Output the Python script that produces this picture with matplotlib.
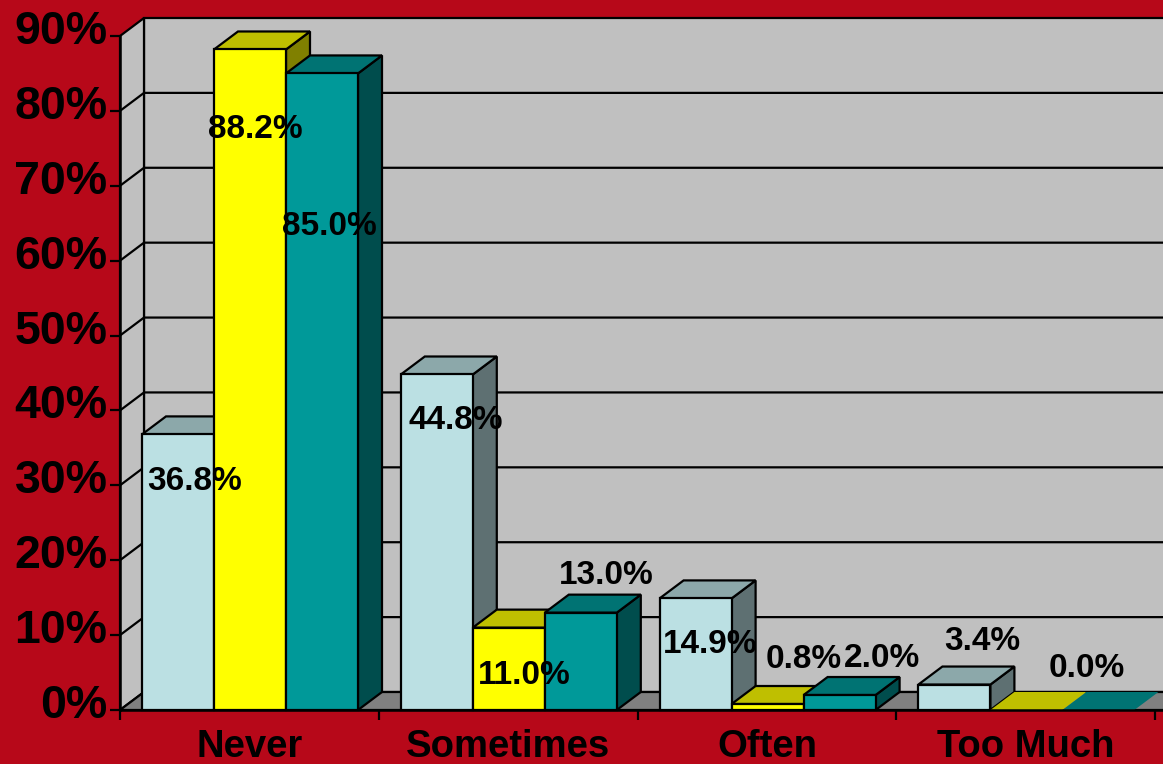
import matplotlib
matplotlib.use('Agg')
import matplotlib.pyplot as plt
from matplotlib.patches import Polygon
from matplotlib.transforms import ScaledTranslation

plt.rcParams['font.family'] = ['Liberation Sans', 'DejaVu Sans']
plt.rcParams['font.weight'] = 'bold'

categories = ['Never', 'Sometimes', 'Often', 'Too Much']
light_values = [36.8, 44.8, 14.9, 3.4]
yellow_values = [88.2, 11.0, 0.8, 0.0]
teal_values = [85.0, 13.0, 2.0, 0.0]
y_ticks = [0, 10, 20, 30, 40, 50, 60, 70, 80, 90]

# label offsets from each bar's top left corner, in pixels (None = not shown)
light_offsets = [(53, -44), (55, -43), (51, -43), (64, 47)]
yellow_offsets = [(41, -77), (51, -44), (72, 48), None]
teal_offsets = [(43, -150), (61, 41), (78, 40), (24, 45)]

RED = '#B70819'
WALL = '#C0C0C0'
FLOOR = '#808080'
# front, top, side
LIGHT = ('#BBE0E3', '#8CA8AA', '#5E7072')
YELLOW = ('#FFFF00', '#BFBF00', '#808000')
TEAL = ('#009999', '#007373', '#004D4D')

W, H = 1163, 764
CAT_PX = 258.8
PCT_PX = 674 / 90
DX = 24 / CAT_PX
DY = 18 / PCT_PX
BAR_W = 72 / CAT_PX
GROUP_OFF = 22 / CAT_PX
LW = 1.6

fig = plt.figure(figsize=(W / 100, H / 100), dpi=100, facecolor=RED)
ax = fig.add_axes([120 / W, (H - 710) / H, (W - 120) / W, 674 / H])
ax.set_facecolor('none')
xmax = (W - 120) / CAT_PX
ax.set_xlim(0, xmax)
ax.set_ylim(0, 90)


def poly(pts, color, z, lw=LW):
    ax.add_patch(Polygon(pts, closed=True, facecolor=color, edgecolor='black',
                         linewidth=lw, clip_on=False, zorder=z, joinstyle='miter'))


# walls and floor
poly([(DX, DY), (xmax + 1, DY), (xmax + 1, 90 + DY), (DX, 90 + DY)], WALL, 1)
poly([(0, 0), (DX, DY), (DX, 90 + DY), (0, 90)], WALL, 1)
poly([(0, 0), (DX, DY), (xmax + 1, DY), (xmax + 1, 0)], FLOOR, 1)

for v in y_ticks[1:-1]:
    ax.plot([0, DX, xmax + 1], [v, v + DY, v + DY], color='black', lw=LW,
            clip_on=False, zorder=2)

series = [(light_values, LIGHT, light_offsets),
          (yellow_values, YELLOW, yellow_offsets),
          (teal_values, TEAL, teal_offsets)]

z = 3
for c in range(len(categories)):
    for s, (values, cols, offsets) in enumerate(series):
        v = values[c]
        x0 = c + GROUP_OFF + s * BAR_W
        x1 = x0 + BAR_W
        lw = LW if v > 0 else 0
        poly([(x1, 0), (x1 + DX, DY), (x1 + DX, v + DY), (x1, v)], cols[2], z, lw)
        poly([(x0, v), (x1, v), (x1 + DX, v + DY), (x0 + DX, v + DY)], cols[1], z, lw)
        poly([(x0, 0), (x1, 0), (x1, v), (x0, v)], cols[0], z, lw)
        z += 1
        if offsets[c] is not None:
            ax.annotate(f'{v:.1f}%', xy=(x0, v), xytext=offsets[c],
                        textcoords='offset pixels', ha='center', va='center_baseline',
                        fontsize=24, fontweight='bold', color='black', zorder=50)

# axes
for side in ['top', 'right']:
    ax.spines[side].set_visible(False)
for side in ['left', 'bottom']:
    ax.spines[side].set_linewidth(LW + 0.2)
    ax.spines[side].set_zorder(40)

ax.set_yticks(y_ticks)
ax.set_yticklabels([f'{v}%' for v in y_ticks], fontsize=33.5, fontweight='bold')
ax.tick_params(axis='y', length=7, width=LW, pad=2)
shift = ScaledTranslation(0, 9 / 100, fig.dpi_scale_trans)
for lab in ax.get_yticklabels():
    lab.set_transform(lab.get_transform() + shift)

ax.set_xticks(range(len(categories) + 1))
ax.set_xticklabels([])
ax.set_xticks([c + 0.5 for c in range(len(categories))], minor=True)
ax.set_xticklabels(categories, minor=True, fontsize=27.5, fontweight='bold')
ax.tick_params(axis='x', which='major', length=7, width=LW)
ax.tick_params(axis='x', which='minor', length=0, pad=14)

fig.savefig('out.png', dpi=100, facecolor=RED)
